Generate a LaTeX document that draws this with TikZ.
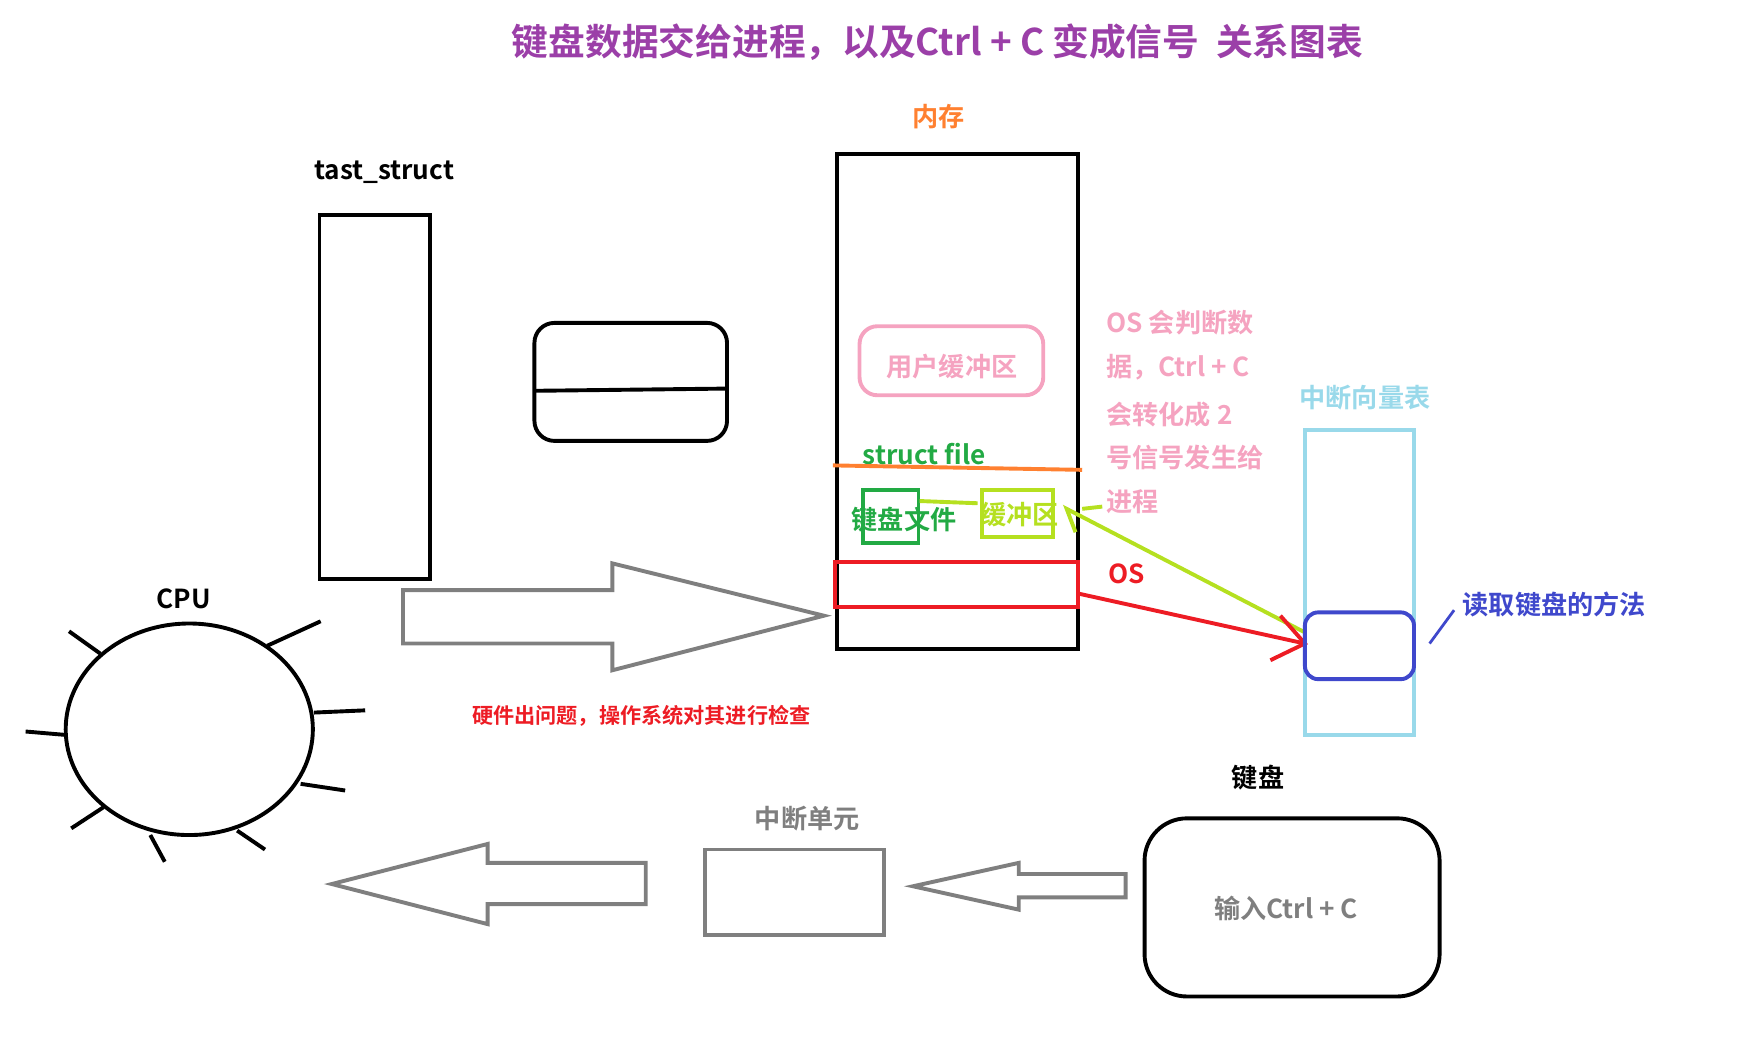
\documentclass[tikz,border=0pt]{standalone}
\usepackage{fontspec}
\setmainfont{Noto Sans CJK SC}[BoldFont={* Bold}]
\usetikzlibrary{arrows.meta}
\definecolor{ttl}{HTML}{9B3FA8}
\definecolor{org}{HTML}{FF8030}
\definecolor{pnk}{HTML}{F5A3C0}
\definecolor{grn}{HTML}{22AA44}
\definecolor{lim}{HTML}{B5E020}
\definecolor{ltb}{HTML}{99D9EA}
\definecolor{blu}{HTML}{3F48CC}
\definecolor{gry}{HTML}{7F7F7F}
\definecolor{rd}{HTML}{ED1C24}
\tikzset{
 lbl/.style={font=\bfseries\fontsize{23.5}{25}\selectfont,inner sep=0pt},
 blk/.style={draw=black,line width=3.5pt},
 garrow/.style={draw=gry,line width=3.5pt,line join=miter},
}
\begin{document}
\begin{tikzpicture}[x=1pt,y=-1pt,line width=3.5pt]
\useasboundingbox (0,0) rectangle (1570,938);
\node[lbl,text=ttl,font=\bfseries\fontsize{33}{35}\selectfont] (title) at (842,38) {键盘数据交给进程，以及Ctrl + C 变成信号\ \ 关系图表};
\node[lbl,text=org] (mem) at (843,105) {内存};
\node[lbl] (ts) at (345,155) {tast\_struct};
\draw[blk] (287,193) rectangle (386,520);
\draw[blk,rounded corners=18pt] (480,290) rectangle (653,396);
\draw[blk] (480,351) -- (653,349);
\draw[blk] (752,138) rectangle (968,583);
\draw[pnk,rounded corners=16pt] (772,293) rectangle (937,355);
\node[lbl,text=pnk] (ub) at (855,329) {用户缓冲区};
\foreach \t/\y [count=\i] in {OS 会判断数/290,{据，Ctrl + C}/330,会转化成 2/372,号信号发生给/411,进程/451}
  \node[lbl,text=pnk,anchor=west] (p\i) at (992,\y) {\t};
\node[lbl,text=grn] (sf) at (830,408) {struct file};
\draw[org] (748,418) -- (972,422);
\draw[grn] (775,440) rectangle (825,488);
\node[lbl,text=grn] (kf) at (812,467) {键盘文件};
\draw[lim] (826,450) -- (878,452);
\draw[lim] (882,440) rectangle (946,482);
\node[lbl,text=lim] (buf) at (916,462) {缓冲区};
\draw[lim] (990,455) -- (972,457);
\draw[lim] (1172,568) -- (958,457) -- (966,478);
\draw[rd] (750,505) rectangle (968,545);
\node[lbl,text=rd] (os) at (1012,515) {OS};
\draw[rd] (968,533) -- (1172,578);
\draw[rd] (1150,553) -- (1172,578) -- (1141,593);
\node[lbl,text=ltb] (ivt) at (1226,357) {中断向量表};
\draw[ltb] (1172,386) rectangle (1270,660);
\draw[blu,rounded corners=12pt] (1172,550) rectangle (1270,610);
\draw[blu,line width=2.5pt] (1284,578) -- (1306,548);
\node[lbl,text=blu] (rdk) at (1396,543) {读取键盘的方法};
\node[lbl] (cpul) at (165,538) {CPU};
\draw[blk] (170,655) ellipse [x radius=111, y radius=95];
\foreach \a/\b/\c/\d in {62/567/90/587,240/580/288/558,282/640/328/638,23/657/58/660,270/704/310/710,64/744/93/725,135/750/148/774,213/746/238/763}
  \draw[blk] (\a,\b) -- (\c,\d);
\draw[garrow] (362,530) -- (550,530) -- (550,506) -- (740,553) -- (550,602) -- (550,578) -- (362,578) -- cycle;
\node[text=rd,font=\bfseries\fontsize{19}{21}\selectfont,inner sep=0pt] (hw) at (576,643) {硬件出问题，操作系统对其进行检查};
\node[lbl] (kb) at (1130,698) {键盘};
\draw[blk,rounded corners=38pt] (1028,735) rectangle (1293,895);
\node[lbl,text=gry] (in) at (1155,816) {输入Ctrl + C};
\node[lbl,text=gry] (iu) at (725,735) {中断单元};
\draw[gry] (633,763) rectangle (794,840);
\draw[garrow] (1011,785) -- (915,785) -- (915,775) -- (820,796) -- (915,817) -- (915,806) -- (1011,806) -- cycle;
\draw[garrow] (580,775) -- (438,775) -- (438,758) -- (298,794) -- (438,830) -- (438,812) -- (580,812) -- cycle;
\end{tikzpicture}
\end{document}
